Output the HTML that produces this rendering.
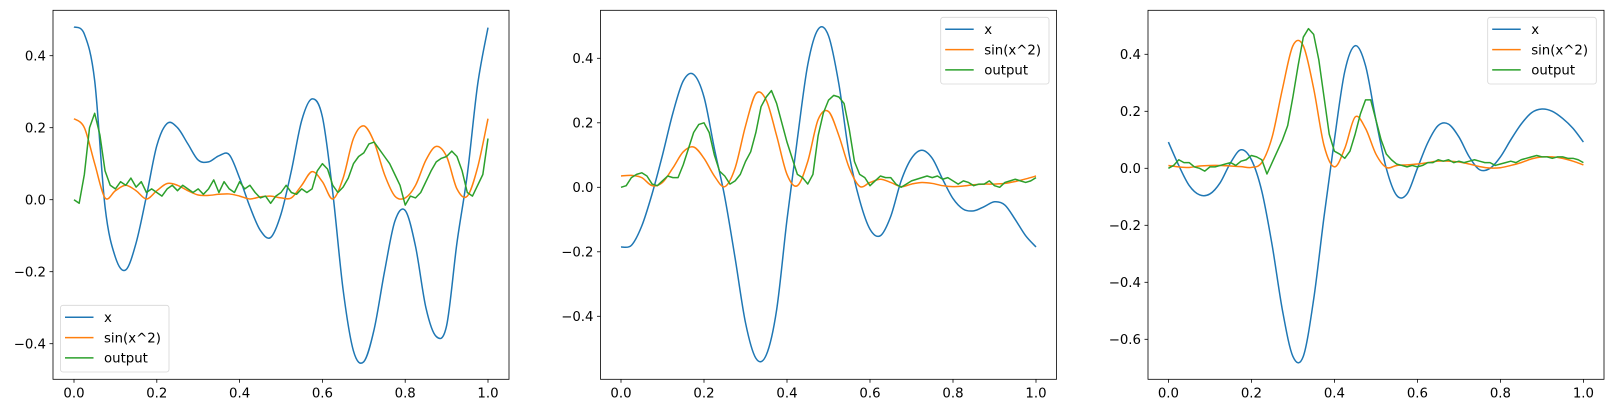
<!DOCTYPE html>
<html><head><meta charset="utf-8"><style>
html,body{margin:0;padding:0;background:#fff;}
svg{display:block;font-family:"DejaVu Sans","Liberation Sans",sans-serif;}
</style></head><body>
<svg id="fig" width="1613" height="413" viewBox="0 0 1613 413"></svg>
<script>
const xTicks = [0, 0.2, 0.4, 0.6, 0.8, 1.0];
const xTickLabels = ["0.0","0.2","0.4","0.6","0.8","1.0"];
const yTicks1 = [-0.4,-0.2,0,0.2,0.4];
const yTicks2 = [-0.4,-0.2,0,0.2,0.4];
const yTicks3 = [-0.6,-0.4,-0.2,0,0.2,0.4];
const seriesNames = ["x","sin(x^2)","output"];

const p1x = [0.48,0.46,0.33,-0.02,-0.16,-0.195,-0.12,0.01,0.15,0.212,0.2,0.155,0.11,0.105,0.122,0.125,0.06,-0.02,-0.085,-0.105,-0.04,0.08,0.22,0.28,0.23,0.02,-0.25,-0.42,-0.45,-0.36,-0.2,-0.06,-0.03,-0.13,-0.3,-0.38,-0.35,-0.12,0.07,0.32,0.478];
const p1s = [0.225,0.2,0.1,0.005,0.025,0.04,0.025,0.002,0.025,0.045,0.04,0.025,0.013,0.012,0.015,0.016,0.01,0.002,0.008,0.01,0.005,0.005,0.04,0.078,0.05,0.002,0.06,0.17,0.205,0.16,0.07,0.01,0.005,0.04,0.11,0.148,0.12,0.03,0.01,0.09,0.225];
const p1o = [0,-0.01,0.07,0.2,0.24,0.18,0.08,0.04,0.03,0.05,0.04,0.06,0.035,0.05,0.02,0.03,0.02,0.01,0.03,0.04,0.025,0.04,0.03,0.02,0.03,0.015,0.03,0.055,0.02,0.05,0.03,0.02,0.05,0.03,0.04,0.02,0.005,0.01,-0.01,0.01,0.02,0.04,0.02,0.015,0.03,0.02,0.03,0.08,0.1,0.085,0.04,0.02,0.035,0.06,0.1,0.12,0.13,0.155,0.16,0.14,0.12,0.1,0.07,0.04,-0.015,0.01,0.005,0.02,0.05,0.08,0.105,0.115,0.12,0.135,0.12,0.08,0.02,0.01,0.04,0.07,0.17];

const p2x = [-0.185,-0.18,-0.12,-0.02,0.1,0.23,0.33,0.35,0.28,0.12,-0.03,-0.22,-0.42,-0.53,-0.52,-0.38,-0.1,0.15,0.38,0.49,0.47,0.32,0.1,-0.04,-0.13,-0.15,-0.09,0.02,0.09,0.115,0.09,0.025,-0.035,-0.068,-0.073,-0.06,-0.045,-0.055,-0.1,-0.15,-0.185];
const p2s = [0.035,0.037,0.03,0.005,0.015,0.06,0.11,0.125,0.09,0.035,0.002,0.06,0.19,0.29,0.27,0.16,0.04,0.005,0.08,0.21,0.235,0.16,0.06,0.003,0.015,0.025,0.015,0.002,0.01,0.015,0.012,0.005,0.002,0.004,0.008,0.01,0.01,0.012,0.018,0.026,0.035];
const p2o = [0,0.005,0.03,0.04,0.045,0.035,0.01,0.005,0.02,0.035,0.03,0.03,0.07,0.12,0.17,0.195,0.2,0.17,0.1,0.05,0.035,0.01,0.02,0.04,0.08,0.11,0.17,0.25,0.28,0.3,0.26,0.2,0.14,0.09,0.04,0.03,0.01,0.04,0.16,0.23,0.27,0.285,0.28,0.26,0.18,0.08,0.04,0.03,0.005,0.02,0.035,0.03,0.03,0.01,0,0.01,0.02,0.025,0.03,0.035,0.03,0.035,0.025,0.03,0.02,0.01,0.02,0.015,0.005,0.01,0.01,0.02,0.005,0,0.015,0.02,0.025,0.02,0.015,0.02,0.03];

const p3x = [0.092,0.01,-0.06,-0.093,-0.09,-0.05,0.02,0.065,0.03,-0.08,-0.27,-0.5,-0.66,-0.66,-0.46,-0.17,0.1,0.34,0.43,0.36,0.17,0,-0.095,-0.09,0,0.09,0.15,0.155,0.11,0.04,-0.005,0,0.04,0.1,0.155,0.195,0.208,0.2,0.175,0.14,0.092];
const p3s = [0.01,0.005,0.003,0.008,0.01,0.01,0.008,0.006,0.003,0.02,0.11,0.28,0.43,0.43,0.28,0.08,0.005,0.07,0.18,0.14,0.05,0.003,0.01,0.012,0.015,0.02,0.025,0.025,0.022,0.015,0.006,0.001,0.002,0.01,0.02,0.033,0.04,0.04,0.035,0.025,0.012];
const p3o = [0,0.01,0.03,0.02,0.02,0.005,0,-0.01,0.005,0.005,0.01,0.015,0.02,0.01,0.025,0.03,0.045,0.04,0.03,-0.02,0.02,0.06,0.1,0.15,0.25,0.36,0.46,0.49,0.47,0.38,0.25,0.12,0.06,0.05,0.035,0.06,0.12,0.19,0.24,0.24,0.17,0.1,0.05,0.03,0.015,0.01,0.005,0.01,0.005,0.01,0.02,0.02,0.03,0.025,0.03,0.02,0.025,0.02,0.025,0.03,0.025,0.02,0.02,0.01,0.015,0.02,0.025,0.02,0.03,0.035,0.04,0.045,0.04,0.04,0.035,0.04,0.04,0.035,0.035,0.03,0.02];

const NS='http://www.w3.org/2000/svg';
const svg=document.getElementById('fig');
const colors=['#1f77b4','#ff7f0e','#2ca02c'];
function mk(tag,attrs,parent){const e=document.createElementNS(NS,tag);for(const k in attrs)e.setAttribute(k,attrs[k]);(parent||svg).appendChild(e);return e;}
function fmt(v){const s=Math.abs(v).toFixed(1);return (v<-1e-9?'\u2212':'')+s;}

const panels=[
 {L:53,R:509,T:10.3,B:379.3,x0:74,x1:488,zeroY:199.7,ppu:360,yt:yTicks1,data:[p1x,p1s,p1o],leg:{x:60.5,y:305.3,w:108.5,h:66.7}},
 {L:600.5,R:1056.5,T:10.3,B:379.3,x0:621,x1:1036,zeroY:187.3,ppu:322.5,yt:yTicks2,data:[p2x,p2s,p2o],leg:{x:940.7,y:17.3,w:108.3,h:66.7}},
 {L:1148,R:1604,T:10.3,B:379.3,x0:1168.4,x1:1583.4,zeroY:168.3,ppu:285,yt:yTicks3,data:[p3x,p3s,p3o],leg:{x:1487.7,y:17.3,w:108.6,h:66.7}}
];

function smoothPath(pts){
 let d='M'+pts[0][0].toFixed(2)+','+pts[0][1].toFixed(2);
 for(let i=0;i<pts.length-1;i++){
  const p0=pts[Math.max(0,i-1)],p1=pts[i],p2=pts[i+1],p3=pts[Math.min(pts.length-1,i+2)];
  const c1x=p1[0]+(p2[0]-p0[0])/6,c1y=p1[1]+(p2[1]-p0[1])/6;
  const c2x=p2[0]-(p3[0]-p1[0])/6,c2y=p2[1]-(p3[1]-p1[1])/6;
  d+=' C'+c1x.toFixed(2)+','+c1y.toFixed(2)+' '+c2x.toFixed(2)+','+c2y.toFixed(2)+' '+p2[0].toFixed(2)+','+p2[1].toFixed(2);
 }
 return d;
}

panels.forEach((p,pi)=>{
 const g=mk('g',{});
 
 
 const xs=v=>p.x0+(p.x1-p.x0)*v;
 const ys=v=>p.zeroY-p.ppu*v;
 const clipId='clip'+pi;
 const cp=mk('clipPath',{id:clipId},g);
 mk('rect',{x:p.L,y:p.T,width:p.R-p.L,height:p.B-p.T},cp);
 // series
 p.data.forEach((arr,si)=>{
  const n=arr.length;
  const pts=arr.map((v,i)=>[xs(i/(n-1)),ys(v)]);
  let d;
  if(si===2){d='M'+pts.map(q=>q[0].toFixed(2)+','+q[1].toFixed(2)).join(' L');}
  else d=smoothPath(pts);
  const path=mk('path',{d:d,fill:'none',stroke:colors[si],'stroke-width':1.5,'clip-path':'url(#'+clipId+')','stroke-linejoin':'round'},g);
  
  
 });
 // frame
 const fr=mk('rect',{x:p.L,y:p.T,width:p.R-p.L,height:p.B-p.T,fill:'none',stroke:'#000','stroke-width':0.8},g);
 
 
 // x ticks
 xTicks.forEach((t,i)=>{
  const x=xs(t);
  mk('line',{x1:x,x2:x,y1:p.B,y2:p.B+3.5,stroke:'#000','stroke-width':0.8},g);
  const tx=mk('text',{x:x,y:p.B+18,'text-anchor':'middle','font-size':'13.3px',fill:'#000'},g);
  tx.textContent=xTickLabels[i];
  
  
 });
 // y ticks
 p.yt.forEach(t=>{
  const y=ys(t);
  mk('line',{x1:p.L-3.5,x2:p.L,y1:y,y2:y,stroke:'#000','stroke-width':0.8},g);
  const tx=mk('text',{x:p.L-7,y:y+4.8,'text-anchor':'end','font-size':'13.3px',fill:'#000'},g);
  tx.textContent=fmt(t);
  
  
 });
 // legend
 const L=p.leg;
 const lg=mk('g',{},g);
 
 
 mk('rect',{x:L.x,y:L.y,width:L.w,height:L.h,rx:2.5,fill:'#fff','fill-opacity':0.8,stroke:'#d6d6d6','stroke-width':0.8},lg);
 seriesNames.forEach((nm,si)=>{
  const yy=L.y+12+si*20.3;
  mk('line',{x1:L.x+4.5,x2:L.x+33,y1:yy,y2:yy,stroke:colors[si],'stroke-width':1.5},lg);
  const tx=mk('text',{x:L.x+43.5,y:yy+4.8,'font-size':'13.3px',fill:'#000'},lg);
  tx.textContent=nm;
  
  
 });
});
</script>
</body></html>
